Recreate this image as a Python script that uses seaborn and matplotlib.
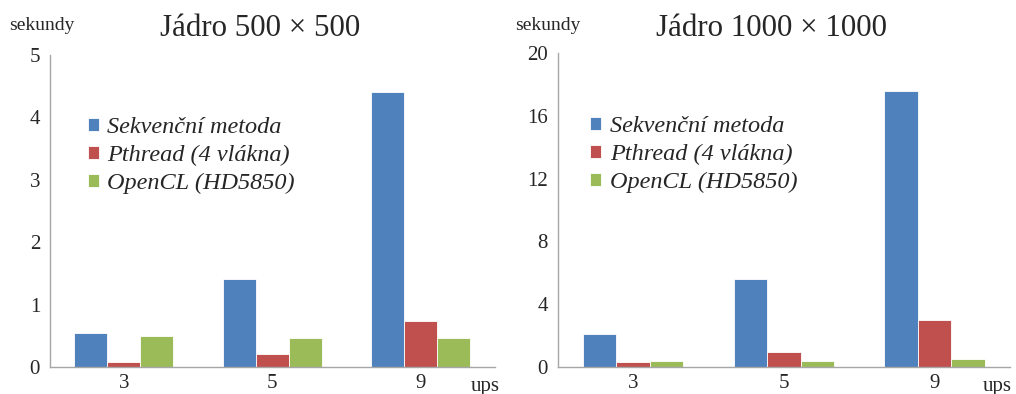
import pandas as pd
import matplotlib.pyplot as plt
import seaborn as sns

# values
ups = ["3", "5", "9"]
methods = ["Sekvenční metoda", "Pthread (4 vlákna)", "OpenCL (HD5850)"]
colors = ["#4F81BD", "#C0504D", "#9BBB59"]

seq_500 = [0.54, 1.41, 4.40]
pthread_500 = [0.075, 0.21, 0.73]
opencl_500 = [0.50, 0.46, 0.465]

seq_1000 = [2.1, 5.6, 17.6]
pthread_1000 = [0.3, 0.93, 3.0]
opencl_1000 = [0.38, 0.40, 0.53]


def to_long(series_list):
    rows = []
    for name, vals in zip(methods, series_list):
        for u, v in zip(ups, vals):
            rows.append({"ups": u, "sekundy": v, "metoda": name})
    return pd.DataFrame(rows)


def draw_panel(ax, data, ymax, ystep, legend_x):
    sns.barplot(data=data, x="ups", y="sekundy", hue="metoda", hue_order=methods,
                palette=colors, width=0.667, saturation=1, edgecolor="white",
                linewidth=0.6, ax=ax)
    ax.set_xlim(-0.5, 2.5)
    ax.set_ylim(0, ymax)
    ax.set_yticks(range(0, ymax + 1, ystep))
    ax.set_xlabel("")
    ax.set_ylabel("")
    for s in ["top", "right"]:
        ax.spines[s].set_visible(False)
    for s in ["left", "bottom"]:
        ax.spines[s].set_color("#A6A6A6")
        ax.spines[s].set_linewidth(1)
    ax.tick_params(axis="y", length=4, color="#A6A6A6", labelsize=15, pad=3)
    ax.tick_params(axis="x", length=0, labelsize=15, pad=5)
    handles, labels = ax.get_legend_handles_labels()
    ax.legend(handles, labels, loc="upper left", bbox_to_anchor=(legend_x, 0.80),
              frameon=False, prop={"family": "Liberation Serif", "style": "italic", "size": 17.5},
              handlelength=0.45, handleheight=0.45, handletextpad=0.35,
              labelspacing=0.28, borderpad=0, borderaxespad=0)


sns.set_style("white")
plt.rcParams["font.family"] = ["Liberation Serif", "DejaVu Serif"]

fig = plt.figure(figsize=(10.16, 3.94), dpi=100)
ax1 = fig.add_axes([0.049, 0.0685, 0.438, 0.792])
ax2 = fig.add_axes([0.549, 0.0685, 0.445, 0.797])

draw_panel(ax1, to_long([seq_500, pthread_500, opencl_500]), 5, 1, 0.085)
draw_panel(ax2, to_long([seq_1000, pthread_1000, opencl_1000]), 20, 4, 0.072)

# titles and axis captions placed like in the original
W, H = 1016, 394
fig.text(260 / W, 1 - 28 / H, "Jádro 500 × 500", fontsize=22.3, ha="center", va="center")
fig.text(771 / W, 1 - 28 / H, "Jádro 1000 × 1000", fontsize=22.3, ha="center", va="center")
fig.text(9 / W, 1 - 25 / H, "sekundy", fontsize=14, ha="left", va="center")
fig.text(515 / W, 1 - 25 / H, "sekundy", fontsize=14, ha="left", va="center")
fig.text(500 / W, 1 - 386 / H, "ups", fontsize=15, ha="right", va="center")
fig.text(1012 / W, 1 - 386 / H, "ups", fontsize=15, ha="right", va="center")

fig.savefig("out.png", dpi=100)
